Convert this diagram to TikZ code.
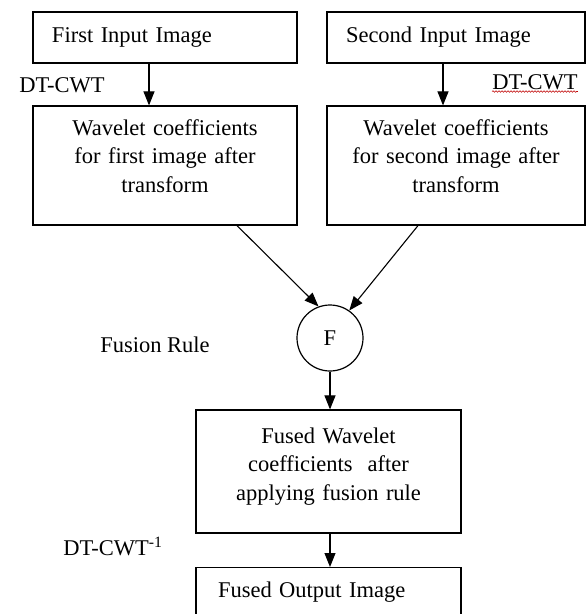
\documentclass[tikz,border=0pt]{standalone}
\usepackage{fontspec}
\setmainfont{Liberation Serif}
\usetikzlibrary{arrows.meta,decorations.pathmorphing}

\begin{document}
\begin{tikzpicture}[x=1pt, y=-1pt,
  every node/.style={font=\fontsize{22.5}{28.5}\selectfont},
  blockbox/.style={draw, line width=1.2pt, inner sep=0pt},
  flow/.style={line width=1.1pt, -{Triangle[length=14pt, width=11pt]}},
  tag/.style={inner sep=0pt, anchor=base}]

  \useasboundingbox (0,0) rectangle (587,614);

  % --- Input images ---
  \node[blockbox, minimum width=264pt, minimum height=51pt, text width=226pt, align=left]
    (inA) at (165,37.5) {First Input Image};
  \node[blockbox, minimum width=258pt, minimum height=51pt, text width=220pt, align=left]
    (inB) at (456,37.5) {Second Input Image};

  % --- Transformed coefficients ---
  \node[blockbox, minimum width=264pt, minimum height=119pt, text width=240pt, align=center,
    text height=15.5pt, text depth=76pt]
    (wcA) at (165,165.5) {Wavelet coefficients\\for first image after\\transform};
  \node[blockbox, minimum width=258pt, minimum height=119pt, text width=240pt, align=center,
    text height=15.5pt, text depth=76pt]
    (wcB) at (456,165.5) {Wavelet coefficients\\for second image after\\transform};

  % --- Fusion ---
  \node[draw, circle, line width=1.2pt, minimum size=66pt, inner sep=0pt]
    (fuse) at (330,338) {F};
  \node[blockbox, minimum width=265pt, minimum height=123pt, text width=240pt, align=center,
    text height=15.5pt, text depth=72pt]
    (fw) at (328.5,471.5) {Fused Wavelet\\coefficients\ \ after\\applying fusion rule};
  \node[blockbox, anchor=north, minimum width=265pt, inner ysep=4pt, text height=26pt,
    text depth=36pt, text width=221pt, align=left]
    (out) at (328.5,567) {Fused Output Image};

  % --- Labels ---
  \node[tag] (dtA) at (62,92) {DT-CWT};
  \node[tag] (dtB) at (535,89) {DT-CWT};
  \draw[red!75!black, line width=0.6pt, decorate,
    decoration={snake, amplitude=0.8pt, segment length=3pt}]
    ([yshift=-2.5pt]dtB.base west) -- ([yshift=-2.5pt]dtB.base east);
  \node[tag] (rule) at (155,352) {Fusion Rule};
  \node[tag] (dtInv) at (113,555) {DT-CWT\textsuperscript{-1}};

  % --- Arrows ---
  \draw[flow] ([xshift=-16pt]inA.south) -- ([xshift=-16pt]wcA.north);
  \draw[flow] ([xshift=-13pt]inB.south) -- ([xshift=-13pt]wcB.north);
  \draw[flow] ([xshift=72pt]wcA.south) -- (fuse.110);
  \draw[flow] ([xshift=-38pt]wcB.south) -- (fuse.55);
  \draw[flow] (fuse.south) -- (fuse.south |- fw.north);
  \draw[flow] ([xshift=1.5pt]fw.south) -- ([xshift=1.5pt]out.north);

\end{tikzpicture}
\end{document}
